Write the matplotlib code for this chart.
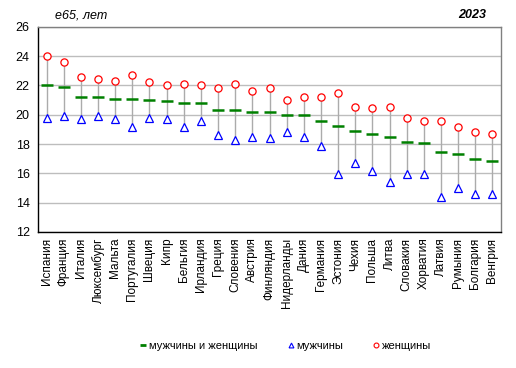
import matplotlib
matplotlib.use("Agg")
import matplotlib.pyplot as plt
from matplotlib.lines import Line2D

plt.rcParams['font.family'] = ['Liberation Sans', 'DejaVu Sans']

countries = ["Испания", "Франция", "Италия", "Люксембург", "Мальта", "Португалия",
             "Швеция", "Кипр", "Бельгия", "Ирландия", "Греция", "Словения", "Австрия",
             "Финляндия", "Нидерланды", "Дания", "Германия", "Эстония", "Чехия",
             "Польша", "Литва", "Словакия", "Хорватия", "Латвия", "Румыния",
             "Болгария", "Венгрия"]
total = [22.05, 21.9, 21.23, 21.23, 21.1, 21.1, 21.03, 20.9, 20.83, 20.83, 20.35, 20.35,
         20.15, 20.15, 20.0, 19.95, 19.6, 19.2, 18.87, 18.67, 18.47, 18.13, 18.07,
         17.46, 17.3, 17.0, 16.85]
men = [19.75, 19.9, 19.7, 19.9, 19.7, 19.15, 19.75, 19.7, 19.15, 19.55, 18.6, 18.25,
       18.45, 18.4, 18.85, 18.47, 17.85, 15.95, 16.7, 16.15, 15.4, 15.95, 15.95,
       14.4, 15.0, 14.6, 14.6]
women = [24.0, 23.6, 22.56, 22.43, 22.3, 22.7, 22.25, 22.05, 22.1, 22.05, 21.8, 22.1,
         21.6, 21.8, 21.0, 21.2, 21.2, 21.5, 20.55, 20.43, 20.55, 19.8, 19.6, 19.55,
         19.15, 18.85, 18.65]
yticks = [12, 14, 16, 18, 20, 22, 24, 26]

fig = plt.figure(figsize=(5.16, 3.68), dpi=100)
ax = fig.add_axes([38/516, 1-232/368, (501-38)/516, (232-26.7)/368])

x = list(range(len(countries)))
ax.vlines(x, men, women, colors='#ababab', linewidth=1.0, zorder=2)
ax.plot(x, total, linestyle='none', marker='_', color='#008000', markersize=8.5,
        markeredgewidth=1.8, zorder=3)
ax.plot(x, men, linestyle='none', marker='^', markerfacecolor='white',
        markeredgecolor='#0000ff', markersize=5.5, markeredgewidth=0.9, zorder=4)
ax.plot(x, women, linestyle='none', marker='o', markerfacecolor='white',
        markeredgecolor='#ff0000', markersize=5.2, markeredgewidth=0.9, zorder=4)

ax.set_xlim(-0.5, len(countries) - 0.5)
ax.set_ylim(12, 26)
ax.set_yticks(yticks)
ax.set_yticklabels([str(t) for t in yticks], fontsize=9)
ax.set_xticks(x)
ax.set_xticklabels(countries, rotation=90, fontsize=8.5)
ax.tick_params(axis='both', length=0, pad=4)
ax.tick_params(axis='y', pad=6)
ax.yaxis.grid(True, color='#bdbdbd', linewidth=1.0)
ax.set_axisbelow(True)
for s in ['left', 'bottom']:
    ax.spines[s].set_color('black')
    ax.spines[s].set_linewidth(1.0)
for s in ['top', 'right']:
    ax.spines[s].set_color('#808080')
    ax.spines[s].set_linewidth(1.0)

fig.text(55/516, 1-15/368, 'e65, лет', fontsize=9, style='italic', va='center', ha='left')
fig.text(486/516, 1-15/368, '2023', fontsize=9, style='italic', weight='bold',
         va='center', ha='right')

handles = [
    Line2D([], [], linestyle='none', marker='_', color='#008000', markersize=4, markeredgewidth=2),
    Line2D([], [], linestyle='none', marker='^', markerfacecolor='white',
           markeredgecolor='#0000ff', markersize=3.5, markeredgewidth=0.8),
    Line2D([], [], linestyle='none', marker='o', markerfacecolor='white',
           markeredgecolor='#ff0000', markersize=3.5, markeredgewidth=0.8),
]
labels = ['мужчины и женщины', 'мужчины', 'женщины']
fig.legend(handles, labels, loc='center', bbox_to_anchor=(286/516, 1-346/368), ncol=3,
           frameon=False, fontsize=8, handlelength=0.5, handletextpad=0.3,
           columnspacing=2.7)

fig.savefig('out.png', dpi=100)
